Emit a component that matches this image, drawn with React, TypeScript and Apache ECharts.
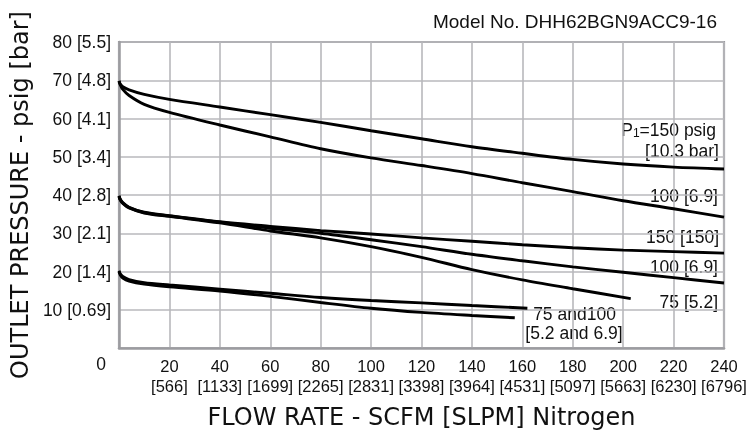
import React, { useEffect, useRef } from "react";
import * as echarts from "echarts";

// ---------- data ----------
const xTicks = [0, 20, 40, 60, 80, 100, 120, 140, 160, 180, 200, 220, 240];
const slpmLabels = ["", "566", "1133", "1699", "2265", "2831", "3398", "3964", "4531", "5097", "5663", "6230", "6796"];
const yTicks = [0, 10, 20, 30, 40, 50, 60, 70, 80];
const barLabels = ["", "0.69", "1.4", "2.1", "2.8", "3.4", "4.1", "4.8", "5.5"];

// set 70 psig, P1 = 150 psig
const flowA = [0, 0.5, 1.5, 4, 10, 20, 40, 60, 80, 100, 120, 140, 160, 180, 200, 220, 240];
const presA = [69.8, 69.0, 68.3, 67.5, 66.3, 65.0, 63.0, 61.0, 59.0, 56.8, 54.7, 52.6, 50.9, 49.3, 48.1, 47.3, 46.8];
// set 70 psig, P1 = 100 psig
const flowB = [0, 0.5, 1.5, 4, 10, 20, 40, 60, 80, 100, 120, 140, 160, 180, 200, 220, 240];
const presB = [69.8, 68.8, 67.6, 66.0, 63.7, 61.6, 58.3, 55.2, 52.1, 49.7, 47.7, 45.6, 43.2, 40.9, 38.5, 36.4, 34.2];
// set 40 psig, P1 = 150 psig
const flowC = [0, 0.5, 1.5, 4, 10, 20, 40, 60, 80, 100, 120, 140, 160, 180, 200, 220, 240];
const presC = [39.8, 38.9, 38.0, 36.8, 35.5, 34.6, 33.0, 31.8, 30.7, 29.8, 28.8, 27.9, 27.0, 26.2, 25.6, 25.2, 24.8];
// set 40 psig, P1 = 100 psig
const flowD = [0, 0.5, 1.5, 4, 10, 20, 40, 60, 80, 100, 120, 140, 160, 180, 200, 220, 240];
const presD = [39.7, 38.8, 37.9, 36.7, 35.4, 34.5, 32.9, 31.3, 30.0, 28.3, 26.5, 24.5, 22.8, 21.2, 19.8, 18.4, 17.0];
// set 40 psig, P1 = 75 psig
const flowE = [0, 0.5, 1.5, 4, 10, 20, 40, 60, 80, 100, 120, 140, 160, 180, 203];
const presE = [39.6, 38.7, 37.8, 36.6, 35.3, 34.4, 32.7, 30.6, 28.8, 26.5, 23.7, 20.5, 17.8, 15.5, 12.9];
// set 20 psig, P1 = 75 and 100 psig
const flowF = [0, 0.5, 1.5, 4, 10, 20, 40, 60, 80, 100, 120, 140, 162];
const presF = [20.2, 19.4, 18.7, 17.9, 17.1, 16.5, 15.4, 14.3, 13.2, 12.4, 11.8, 11.1, 10.4];
const flowG = [0, 0.5, 1.5, 4, 10, 20, 40, 60, 80, 100, 120, 140, 157];
const presG = [20.0, 19.1, 18.3, 17.5, 16.7, 16.0, 14.9, 13.5, 11.9, 10.4, 9.3, 8.5, 7.9];

const curves = [
  { name: "150-70", x: flowA, y: presA },
  { name: "100-70", x: flowB, y: presB },
  { name: "150-40", x: flowC, y: presC },
  { name: "100-40", x: flowD, y: presD },
  { name: "75-40", x: flowE, y: presE },
  { name: "75/100-20 a", x: flowF, y: presF },
  { name: "75/100-20 b", x: flowG, y: presG },
];

const modelText = "Model No. DHH62BGN9ACC9-16";
const xTitle = "FLOW RATE - SCFM [SLPM] Nitrogen";
const yTitle = "OUTLET PRESSURE - psig [bar]";

const SANS = "'Liberation Sans', Arial, sans-serif";
const WIDE = "'DejaVu Sans', Verdana, sans-serif";
const GRID_COLOR = "#b8b8bc";
const AXIS_COLOR = "#9c9ca0";

export default function App() {
  const ref = useRef<HTMLDivElement>(null);

  useEffect(() => {
    if (!ref.current) return;
    const chart = echarts.init(ref.current, null, { renderer: "svg" });

    const lbl = (text: string, x: number, y: number, align = "right", rich?: any) => ({
      type: "text",
      x,
      y,
      silent: true,
      style: {
        text,
        align,
        verticalAlign: "middle",
        fontSize: 17.5,
        fontFamily: SANS,
        fill: "#111",
        rich,
      },
    });

    chart.setOption({
      animation: false,
      title: {
        text: modelText,
        right: 28,
        top: 7,
        textStyle: { fontSize: 19, fontWeight: "normal", color: "#111", fontFamily: SANS },
      },
      grid: {
        left: 111.5,
        right: 26,
        top: 42,
        bottom: 88,
        show: true,
        borderColor: AXIS_COLOR,
        borderWidth: 2.2,
      },
      xAxis: {
        type: "value",
        min: 0,
        max: 240,
        interval: 20,
        name: xTitle,
        nameLocation: "middle",
        nameGap: 57,
        nameTextStyle: { fontSize: 24, fontFamily: WIDE, color: "#111" },
        axisLine: { show: true, onZero: false, lineStyle: { color: AXIS_COLOR, width: 2.5 } },
        axisTick: { show: true, length: 0 },
        splitLine: { show: true, lineStyle: { color: GRID_COLOR, width: 1.6 } },
        axisLabel: {
          margin: 8,
          fontSize: 16.5,
          lineHeight: 20,
          fontFamily: SANS,
          color: "#111",
          formatter: (v: number) => {
            const i = xTicks.indexOf(v);
            if (i <= 0) return "";
            return `${v}\n[${slpmLabels[i]}]`;
          },
        },
      },
      yAxis: {
        type: "value",
        min: 0,
        max: 80,
        interval: 10,
        name: yTitle,
        nameLocation: "middle",
        nameRotate: 90,
        nameGap: 83,
        nameTextStyle: { fontSize: 24, fontFamily: WIDE, color: "#111" },
        axisLine: { show: true, onZero: false, lineStyle: { color: AXIS_COLOR, width: 2.5 } },
        axisTick: { show: true, length: 0 },
        splitLine: { show: true, lineStyle: { color: GRID_COLOR, width: 1.6 } },
        axisLabel: {
          margin: 8,
          fontSize: 17.5,
          fontFamily: SANS,
          color: "#111",
          formatter: (v: number) => {
            const i = yTicks.indexOf(v);
            if (i <= 0) return "";
            return `${v} [${barLabels[i]}]`;
          },
        },
      },
      series: curves.map((c) => ({
        name: c.name,
        type: "line",
        data: c.x.map((x, i) => [x, c.y[i]]),
        smooth: 0.3,
        showSymbol: false,
        lineStyle: { color: "#000", width: 2.9 },
      })),
      graphic: [
        lbl("0", 101, 364, "center"),
        lbl("{m|P}{s|1}{m|=150 psig}", 716, 130, "right", {
          m: { fontSize: 17.5, fontFamily: SANS, color: "#111" },
          s: { fontSize: 12, fontFamily: SANS, color: "#111", verticalAlign: "bottom", padding: [6, 0, 0, 0] },
        }),
        lbl("[10.3 bar]", 719, 151),
        lbl("100 [6.9]", 718, 196),
        lbl("150 [150]", 719, 237),
        lbl("100 [6.9]", 718, 267),
        lbl("75 [5.2]", 718, 302),
        lbl("75 and100", 574.5, 314, "center"),
        lbl("[5.2 and 6.9]", 574, 333, "center"),
      ],
    });

    return () => chart.dispose();
  }, []);

  return <div ref={ref} style={{ position: "fixed", left: 0, top: 0, width: 750, height: 436 }} />;
}
